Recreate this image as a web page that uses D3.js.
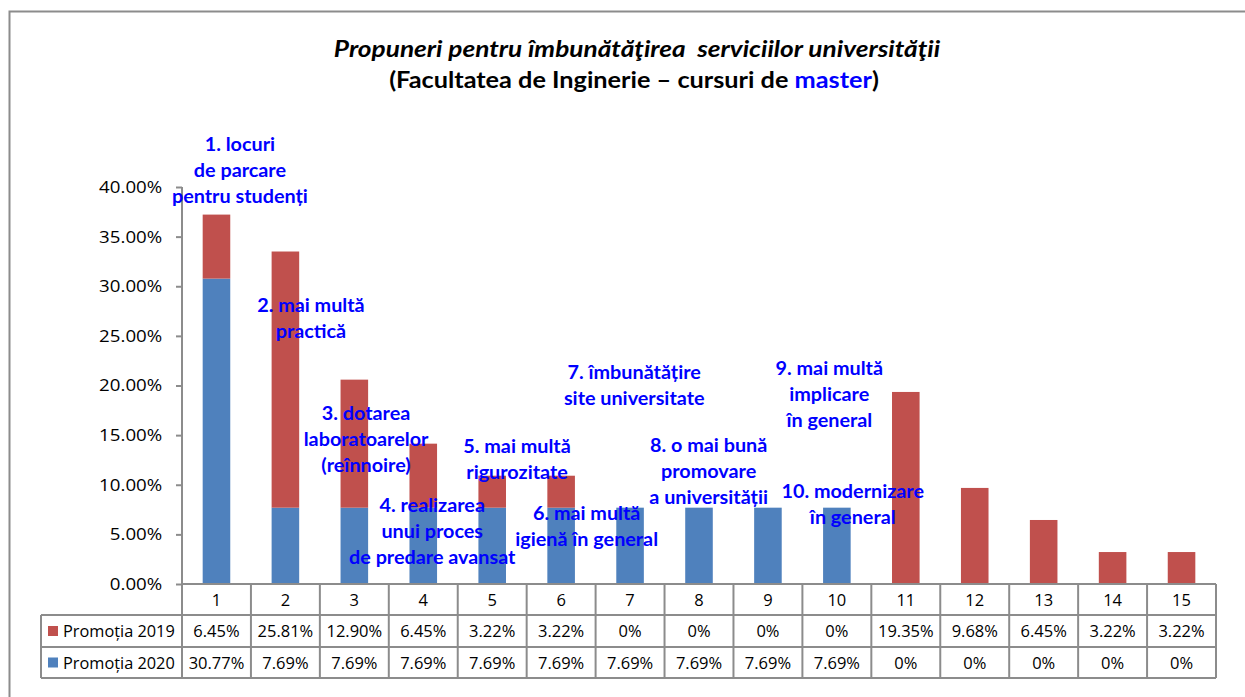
<!DOCTYPE html>
<html>
<head>
<meta charset="utf-8">
<script src="https://cdn.jsdelivr.net/npm/d3@7"></script>
<style>
  body { margin: 0; background: #fff; }
  svg { font-family: Lato, "Open Sans", sans-serif; }
</style>
</head>
<body>
<div id="chart"></div>
<script>
// data
const categories = ['1','2','3','4','5','6','7','8','9','10','11','12','13','14','15'];
const promo2019 = [6.45, 25.81, 12.90, 6.45, 3.22, 3.22, 0, 0, 0, 0, 19.35, 9.68, 6.45, 3.22, 3.22];
const promo2020 = [30.77, 7.69, 7.69, 7.69, 7.69, 7.69, 7.69, 7.69, 7.69, 7.69, 0, 0, 0, 0, 0];
const seriesNames = ['Promoția 2019', 'Promoția 2020'];
const yTicks = [0, 5, 10, 15, 20, 25, 30, 35, 40];

const annotations = [
  ['1. locuri', 'de parcare', 'pentru studenți'],
  ['2. mai multă', 'practică'],
  ['3. dotarea', 'laboratoarelor', '(reînnoire)'],
  ['4. realizarea', 'unui proces', 'de predare avansat'],
  ['5. mai multă', 'rigurozitate'],
  ['6. mai multă', 'igienă în general'],
  ['7. îmbunătățire', 'site universitate'],
  ['8. o mai bună', 'promovare', 'a universității'],
  ['9. mai multă', 'implicare', 'în general'],
  ['10. modernizare', 'în general']
];
// where each annotation sits: category + offset in bands, first baseline at a y value (%)
const annotationPlace = [
  {cat: '1', dx: 0.34, y: 43.6},
  {cat: '2', dx: 0.37, y: 27.4},
  {cat: '3', dx: 0.17, y: 16.5},
  {cat: '4', dx: 0.13, y: 7.25},
  {cat: '5', dx: 0.36, y: 13.2},
  {cat: '6', dx: 0.37, y: 6.45},
  {cat: '7', dx: 0.06, y: 20.65},
  {cat: '8', dx: 0.14, y: 13.3},
  {cat: '9', dx: 0.89, y: 21.06},
  {cat: '10', dx: 0.23, y: 8.67}
];

const width = 1245, height = 697;
const plotLeft = 182, plotRight = 1216, plotTop = 187, plotBottom = 584;
const colors = ['#C0504D', '#4F81BD'];
const gridColor = '#8c8c8c';

// text in the original is a bit wider than these fonts, stretch it horizontally
function placeText(sel, x, y, sx) {
  return sel.attr('transform', `translate(${x},${y}) scale(${sx},1)`);
}

const svg = d3.select('#chart').append('svg')
  .attr('width', width)
  .attr('height', height);

// outer chart border
svg.append('rect')
  .attr('x', 9.5).attr('y', 11.5)
  .attr('width', width + 20).attr('height', height + 20)
  .attr('fill', 'none').attr('stroke', gridColor).attr('stroke-width', 2);

// title
placeText(svg.append('text'), 637, 57, 1.14)
  .attr('text-anchor', 'middle')
  .style('white-space', 'pre')
  .attr('font-size', 23).attr('font-weight', 'bold').attr('font-style', 'italic')
  .text('Propuneri pentru îmbunătăţirea  serviciilor universităţii');
const sub = placeText(svg.append('text'), 634, 88, 1.1)
  .attr('text-anchor', 'middle')
  .style('white-space', 'pre')
  .attr('font-size', 23).attr('font-weight', 'bold');
sub.append('tspan').text('(Facultatea de Inginerie – cursuri de ');
sub.append('tspan').attr('fill', '#0000ff').text('master');
sub.append('tspan').text(')');

const x = d3.scaleBand().domain(categories).range([plotLeft, plotRight]).paddingInner(0.6).paddingOuter(0.3);
const y = d3.scaleLinear().domain([0, 40]).range([plotBottom, plotTop]);

// y axis
const yAxis = svg.append('g')
  .attr('transform', `translate(${plotLeft},0)`)
  .call(d3.axisLeft(y).tickValues(yTicks).tickSize(6).tickFormat(d => d3.format('.2f')(d) + '%'));
yAxis.select('.domain').attr('stroke', gridColor).attr('stroke-width', 2).attr('d', `M0,${plotTop}V${plotBottom}`);
yAxis.selectAll('.tick line').attr('stroke', gridColor).attr('stroke-width', 2);
yAxis.selectAll('.tick text')
  .attr('font-size', 17).attr('fill', '#000').attr('x', -18)
  .attr('font-family', '"Open Sans", sans-serif')
  .attr('transform', 'scale(1.1,1)');

// stacked bars
const rows = categories.map((c, i) => ({cat: c, p2020: promo2020[i], p2019: promo2019[i]}));
const stack = d3.stack().keys(['p2020', 'p2019'])(rows);
const stackColors = {p2020: colors[1], p2019: colors[0]};

svg.append('g').selectAll('g')
  .data(stack)
  .enter().append('g')
  .attr('fill', s => stackColors[s.key])
  .selectAll('rect')
  .data(s => s)
  .enter().append('rect')
  .attr('x', d => x(d.data.cat))
  .attr('width', x.bandwidth())
  .attr('y', d => y(d[1]))
  .attr('height', d => y(d[0]) - y(d[1]));

// data table under the chart
const rowY = [plotBottom, 615, 647, 678];
const tableLeft = 41;
const step = x.step();
const cellX = i => plotLeft + i * step;
const table = svg.append('g').attr('stroke', gridColor).attr('stroke-width', 2);

table.append('line').attr('x1', plotLeft).attr('x2', plotRight).attr('y1', rowY[0]).attr('y2', rowY[0]);
[1, 2, 3].forEach(r => {
  table.append('line').attr('x1', tableLeft).attr('x2', plotRight).attr('y1', rowY[r]).attr('y2', rowY[r]);
});
d3.range(categories.length + 1).forEach(i => {
  table.append('line').attr('x1', cellX(i)).attr('x2', cellX(i)).attr('y1', rowY[0]).attr('y2', rowY[3]);
});
table.append('line').attr('x1', tableLeft).attr('x2', tableLeft).attr('y1', rowY[1]).attr('y2', rowY[3]);

const txt = svg.append('g').attr('font-size', 16).attr('font-family', '"Open Sans", sans-serif').attr('fill', '#000');
const pct = v => v === 0 ? '0%' : d3.format('.2f')(v) + '%';
categories.forEach((c, i) => {
  const cx = x(c) + x.bandwidth() / 2;
  const cells = [c, pct(promo2019[i]), pct(promo2020[i])];
  cells.forEach((s, r) => {
    placeText(txt.append('text'), cx, (rowY[r] + rowY[r + 1]) / 2 + 6, 1.03)
      .attr('text-anchor', 'middle').text(s);
  });
});

// legend keys in the table
seriesNames.forEach((name, i) => {
  const cy = (rowY[i + 1] + rowY[i + 2]) / 2;
  svg.append('rect').attr('x', 48).attr('y', cy - 5).attr('width', 10).attr('height', 10).attr('fill', colors[i]);
  placeText(txt.append('text'), 63, cy + 6, 1.02).text(name);
});

// blue annotations
const ann = svg.append('g')
  .attr('fill', '#0000ff').attr('font-weight', 'bold').attr('font-size', 18)
  .attr('text-anchor', 'middle');
annotations.forEach((lines, i) => {
  const p = annotationPlace[i];
  const ax = x(p.cat) + x.bandwidth() / 2 + p.dx * step;
  const t = placeText(ann.append('text'), ax, y(p.y), 1.1);
  lines.forEach((l, j) => {
    t.append('tspan').attr('x', 0).attr('dy', j === 0 ? 0 : 25.8).text(l);
  });
});
</script>
</body>
</html>
